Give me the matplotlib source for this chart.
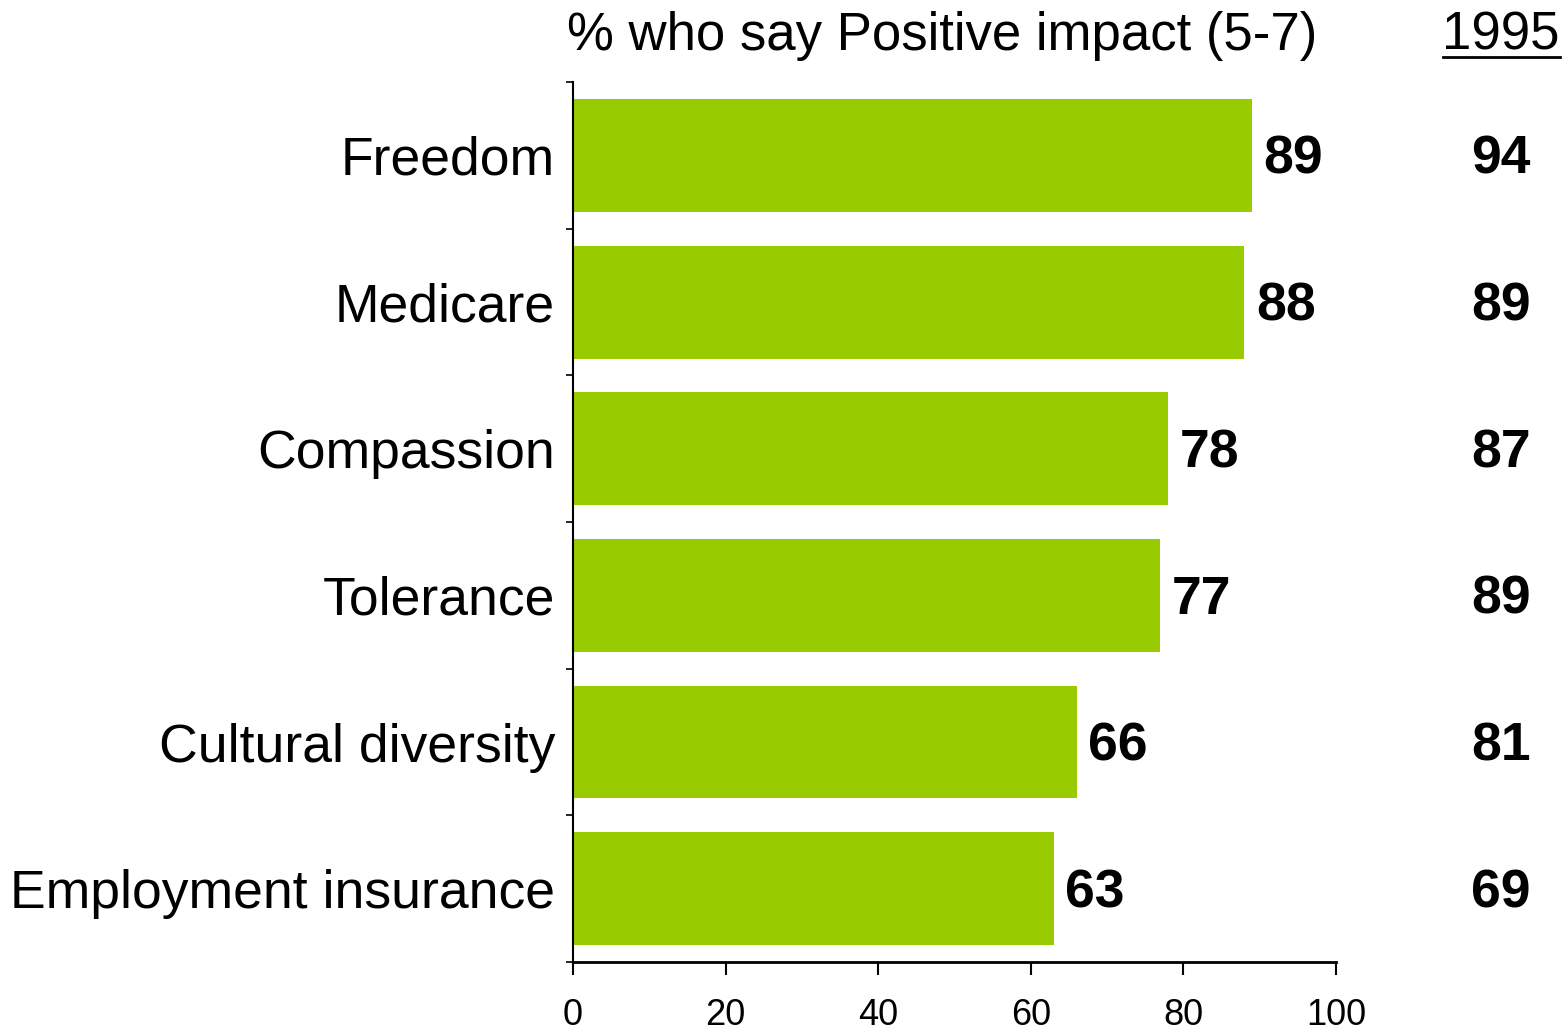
import matplotlib
matplotlib.use('Agg')
import matplotlib.pyplot as plt
from matplotlib.lines import Line2D

plt.rcParams['font.family'] = ['Liberation Sans', 'DejaVu Sans']

# data
categories = ['Freedom', 'Medicare', 'Compassion', 'Tolerance',
              'Cultural diversity', 'Employment insurance']
positive_now = [89, 88, 78, 77, 66, 63]
positive_1995 = [94, 89, 87, 89, 81, 69]
xticks = [0, 20, 40, 60, 80, 100]

bar_color = '#99CC00'

fig = plt.figure(figsize=(15.66, 10.32), dpi=100)
ax = fig.add_axes([0.3659, 0.0678, 0.8531 - 0.3659, 0.9205 - 0.0678])

ypos = list(range(len(categories)))
ax.barh(ypos, positive_now, height=0.77, color=bar_color, zorder=2)

ax.set_xlim(0, 100)
ax.set_ylim(len(categories) - 0.5, -0.5)

ax.set_yticks(ypos)
ax.set_yticklabels(categories, fontsize=38.5)
ax.set_yticks([i - 0.5 for i in range(len(categories) + 1)], minor=True)
ax.tick_params(axis='y', which='major', length=0, pad=13)
ax.tick_params(axis='y', which='minor', length=5, width=1.2, direction='out')

ax.set_xticks(xticks)
ax.set_xticklabels([str(v) for v in xticks], fontsize=26)
ax.tick_params(axis='x', length=9, width=1.5, direction='out', pad=17)

for s in ['top', 'right']:
    ax.spines[s].set_visible(False)
ax.spines['left'].set_linewidth(1.5)
ax.spines['bottom'].set_linewidth(2)

# value labels
for y, v in zip(ypos, positive_now):
    ax.text(v + 1.5, y + 0.03, str(v), ha='left', va='center', fontsize=38.5,
            fontweight='bold', zorder=3)

for y, v in zip(ypos, positive_1995):
    ax.text(125.5, y + 0.03, str(v), ha='right', va='center', fontsize=38.5,
            fontweight='bold', clip_on=False)

# header texts
fig.text(567 / 1566, 1 - 50 / 1032, '% who say Positive impact (5-7)',
         fontsize=38, ha='left', va='baseline')
hdr = fig.text(1560 / 1566, 1 - 50 / 1032, '1995', fontsize=38,
               ha='right', va='baseline')

fig.canvas.draw()
bb = hdr.get_window_extent()
W, H = fig.bbox.width, fig.bbox.height
uy = 1 - 57 / 1032
fig.add_artist(Line2D([bb.x0 / W, bb.x1 / W], [uy, uy], color='black',
                      linewidth=2, transform=fig.transFigure))

fig.savefig('out.png', dpi=100)
